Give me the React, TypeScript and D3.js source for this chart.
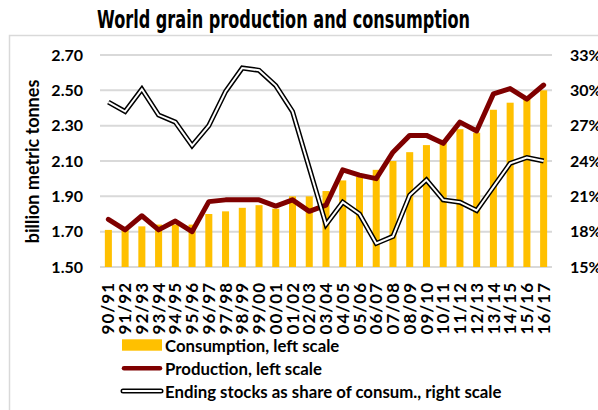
import React from "react";
import * as d3 from "d3";

const categories = ["90/91","91/92","92/93","93/94","94/95","95/96","96/97","97/98","98/99","99/00","00/01","01/02","02/03","03/04","04/05","05/06","06/07","07/08","08/09","09/10","10/11","11/12","12/13","13/14","14/15","15/16","16/17"];
const consumption = [1.71,1.71,1.73,1.74,1.74,1.74,1.80,1.815,1.835,1.85,1.83,1.90,1.90,1.93,1.99,2.01,2.05,2.10,2.15,2.19,2.22,2.28,2.26,2.39,2.43,2.45,2.50];
const production = [1.77,1.71,1.79,1.71,1.76,1.70,1.87,1.88,1.88,1.88,1.845,1.88,1.815,1.85,2.05,2.02,2.0,2.15,2.245,2.245,2.20,2.32,2.27,2.48,2.51,2.45,2.53];
const stocksShare = [29.0,28.2,30.1,27.9,27.3,25.3,27.0,29.9,31.9,31.7,30.4,28.2,23.4,18.6,20.5,19.5,17.0,17.6,21.1,22.4,20.7,20.5,19.8,21.8,23.8,24.3,24.0];
const leftTicks = [1.5,1.7,1.9,2.1,2.3,2.5,2.7];
const rightTicks = [15,18,21,24,27,30,33];
const legendLabels = ["Consumption, left scale","Production, left scale","Ending stocks as share of consum., right scale"];
const title = "World grain production and consumption";
const yTitle = "billion metric tonnes";

const W = 598, H = 410;
const plot = { left: 100, right: 552, top: 55, bottom: 267 };
const FONT = "Lato, 'Open Sans', sans-serif";
const BAR = "#FFC000";
const PROD = "#7F0000";
const GRID = "#D9D9D9";

export default function App() {
  const x = d3.scaleBand<string>().domain(categories).range([plot.left, plot.right]).paddingInner(0.58).paddingOuter(0.29);
  const cx = (c: string) => (x(c) as number) + x.bandwidth() / 2;
  const yL = d3.scaleLinear().domain([1.5, 2.7]).range([plot.bottom, plot.top]);
  const yR = d3.scaleLinear().domain([15, 33]).range([plot.bottom, plot.top]);
  const prodLine = d3.line<number>().x((_, i) => cx(categories[i])).y((d) => yL(d))(production) as string;
  const stockLine = d3.line<number>().x((_, i) => cx(categories[i])).y((d) => yR(d))(stocksShare) as string;
  const lx1 = 122, lx2 = 162;
  const legendY = [351.5, 375, 397.7];

  return (
    <svg width={W} height={H} style={{ position: "absolute", left: 0, top: 0, background: "#fff" }} fontFamily={FONT}>
      <rect x={9.5} y={35.5} width={700} height={500} fill="none" stroke={GRID} strokeWidth={1.5} />
      <text x={283.5} y={28} textAnchor="middle" fontFamily="'Liberation Sans Narrow', 'Arial Narrow', 'DejaVu Sans Condensed', sans-serif" fontWeight="bold" fontSize={24} textLength={373} lengthAdjust="spacingAndGlyphs">{title}</text>
      {leftTicks.map((t) => (
        <line key={"g" + t} x1={plot.left} x2={plot.right} y1={yL(t)} y2={yL(t)} stroke={GRID} strokeWidth={2} />
      ))}
      {categories.map((c, i) => (
        <rect key={"b" + c} x={x(c)} y={yL(consumption[i])} width={x.bandwidth()} height={yL(1.5) - yL(consumption[i])} fill={BAR} />
      ))}
      <path d={prodLine} fill="none" stroke={PROD} strokeWidth={5} strokeLinejoin="round" strokeLinecap="round" />
      <path d={stockLine} fill="none" stroke="#000" strokeWidth={5} strokeLinejoin="miter" />
      <path d={stockLine} fill="none" stroke="#fff" strokeWidth={2} strokeLinejoin="miter" />
      {leftTicks.map((t) => (
        <text key={"l" + t} x={83} y={yL(t)} dy="0.36em" textAnchor="end" fontWeight="bold" fontSize={16}>{d3.format(".2f")(t)}</text>
      ))}
      {rightTicks.map((t) => (
        <text key={"r" + t} x={570} y={yR(t)} dy="0.36em" textAnchor="start" fontWeight="bold" fontSize={16}>{t + "%"}</text>
      ))}
      <text transform={`translate(33,161.5) rotate(-90)`} dy="0.36em" textAnchor="middle" fontWeight="bold" fontSize={18}>{yTitle}</text>
      {categories.map((c) => (
        <text key={"x" + c} transform={`translate(${cx(c)},282) rotate(-90)`} dy="0.36em" textAnchor="end" fontWeight="bold" fontSize={17} letterSpacing={1}>{c}</text>
      ))}
      <rect x={lx1} y={339.3} width={lx2 - lx1} height={11.4} fill={BAR} />
      <line x1={lx1 + 2} x2={lx2 - 2} y1={368.3} y2={368.3} stroke={PROD} strokeWidth={4.5} strokeLinecap="round" />
      <line x1={lx1 + 1} x2={lx2 - 1} y1={391} y2={391} stroke="#000" strokeWidth={5} strokeLinecap="round" />
      <line x1={lx1 + 1} x2={lx2 - 1} y1={391} y2={391} stroke="#fff" strokeWidth={2} strokeLinecap="round" />
      {legendLabels.map((l, i) => (
        <text key={"lg" + i} x={165} y={legendY[i]} fontWeight="bold" fontSize={16.8}>{l}</text>
      ))}
    </svg>
  );
}
